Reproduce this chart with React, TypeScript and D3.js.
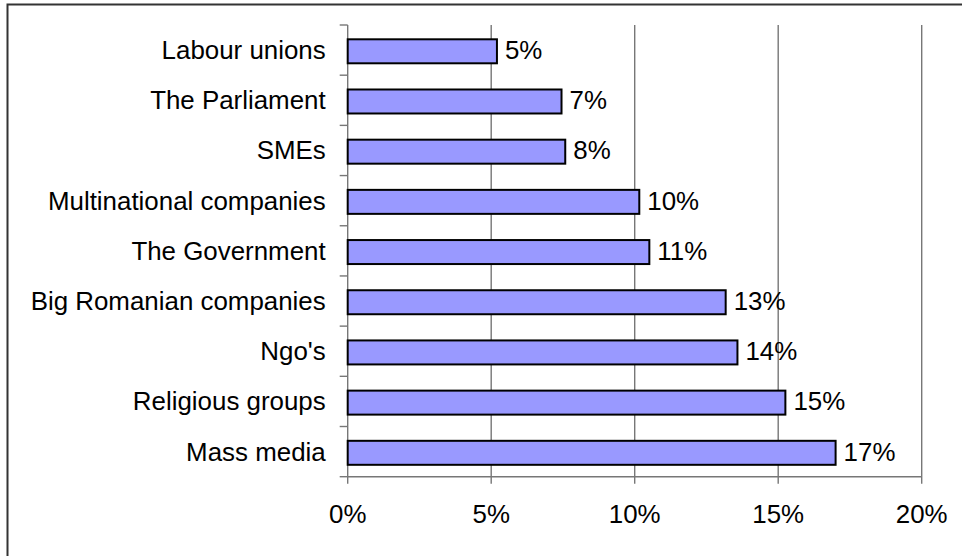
import React from "react";
import * as d3 from "d3";

const categories = [
  "Labour unions",
  "The Parliament",
  "SMEs",
  "Multinational companies",
  "The Government",
  "Big Romanian companies",
  "Ngo's",
  "Religious groups",
  "Mass media",
];
const values = [5.2, 7.45, 7.58, 10.16, 10.51, 13.17, 13.58, 15.25, 17.0];
const xTicks = [0, 5, 10, 15, 20];

const W = 962;
const H = 556;
const left = 347.7;
const right = 921.7;
const top = 25;
const bottom = 476.7;
const FONT = "'Liberation Sans', Arial, sans-serif";
const FS = 25.9;

export default function App() {
  const x = d3.scaleLinear().domain([0, 20]).range([left, right]);
  const y = d3.scaleBand<string>().domain(categories).range([top, bottom]).paddingInner(0).paddingOuter(0);
  const bw = y.bandwidth();
  const bounds = [...categories.map((c) => y(c) as number), bottom];

  return (
    <svg width={W} height={H} style={{ position: "absolute", left: 0, top: 0, background: "#fff" }}>
      <rect x={0} y={0} width={W} height={H} fill="#fff" />
      <rect x={7.5} y={4.5} width={2000} height={2000} fill="none" stroke="#333" strokeWidth={2} />
      {/* gridlines */}
      {xTicks.slice(1).map((t) => (
        <line key={"g" + t} x1={x(t)} x2={x(t)} y1={top} y2={bottom + 7} stroke="#777" strokeWidth={1.4} />
      ))}
      {/* axes */}
      <line x1={left} x2={left} y1={top} y2={bottom + 7} stroke="#777" strokeWidth={1.4} />
      <line x1={left} x2={right} y1={bottom} y2={bottom} stroke="#777" strokeWidth={1.4} />
      {bounds.map((b, i) => (
        <line key={"yt" + i} x1={left - 8} x2={left} y1={b} y2={b} stroke="#777" strokeWidth={1.4} />
      ))}
      {/* bars */}
      {categories.map((c, i) => {
        const y0 = (y(c) as number) + bw * 0.285;
        const h = bw * 0.478;
        return (
          <g key={c}>
            <rect x={x(0)} y={y0} width={x(values[i]) - x(0)} height={h} fill="#9999FF" stroke="#000" strokeWidth={2} />
            <text x={x(values[i]) + 8} y={(y(c) as number) + bw / 2 + 9} fontFamily={FONT} fontSize={FS} fill="#000">
              {Math.round(values[i]) + "%"}
            </text>
            <text x={325.7} y={(y(c) as number) + bw / 2 + 9} textAnchor="end" fontFamily={FONT} fontSize={FS} fill="#000">
              {c}
            </text>
          </g>
        );
      })}
      {/* x tick labels */}
      {xTicks.map((t) => (
        <text key={"xl" + t} x={x(t)} y={522.7} textAnchor="middle" fontFamily={FONT} fontSize={FS} fill="#000">
          {t + "%"}
        </text>
      ))}
    </svg>
  );
}
